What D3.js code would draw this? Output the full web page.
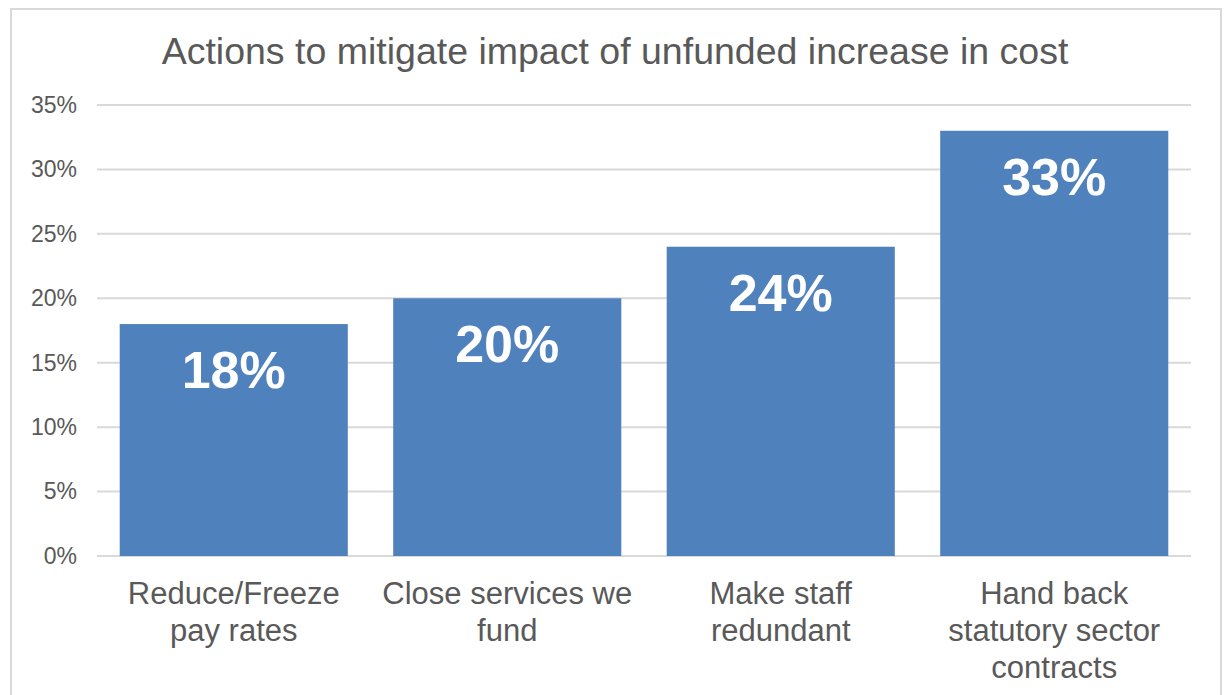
<!DOCTYPE html>
<html>
<head>
<meta charset="utf-8">
<script src="https://cdn.jsdelivr.net/npm/d3@7"></script>
<style>
  body { margin: 0; background: #fff; }
  text { font-family: "Liberation Sans", Arial, sans-serif; }
</style>
</head>
<body>
<script>
var svgWidth = 1224;
var svgHeight = 695;

var title = "Actions to mitigate impact of unfunded increase in cost";
var categories = ["Reduce/Freeze\npay rates", "Close services we\nfund", "Make staff\nredundant", "Hand back\nstatutory sector\ncontracts"];
var values = [0.18, 0.20, 0.24, 0.33];
var yTicks = [0, 0.05, 0.10, 0.15, 0.20, 0.25, 0.30, 0.35];

var svg = d3.select("body").append("svg")
    .attr("width", svgWidth)
    .attr("height", svgHeight);

// chart border
svg.append("rect")
    .attr("x", 11).attr("y", 9)
    .attr("width", 1210).attr("height", 720)
    .attr("fill", "none")
    .attr("stroke", "#d9d9d9")
    .attr("stroke-width", 2);

var plot = { left: 97, right: 1191, top: 105, bottom: 556 };

var x = d3.scaleBand()
    .domain(categories)
    .range([plot.left, plot.right])
    .paddingInner(0.166)
    .paddingOuter(0.083);

var y = d3.scaleLinear()
    .domain([0, 0.35])
    .range([plot.bottom, plot.top]);

// title
svg.append("text")
    .attr("x", 615)
    .attr("y", 64)
    .attr("text-anchor", "middle")
    .attr("font-size", 37.5)
    .attr("fill", "#595959")
    .text(title);

// gridlines
svg.selectAll(".grid").data(yTicks).join("line")
    .attr("class", "grid")
    .attr("x1", plot.left).attr("x2", plot.right)
    .attr("y1", function(d) { return y(d); })
    .attr("y2", function(d) { return y(d); })
    .attr("stroke", "#d9d9d9")
    .attr("stroke-width", 2);

// y axis labels
var yAxis = d3.axisLeft(y).tickValues(yTicks).tickFormat(d3.format(".0%")).tickSize(0).tickPadding(20);
var yg = svg.append("g").attr("transform", "translate(" + plot.left + ",0)").call(yAxis);
yg.select(".domain").remove();
yg.selectAll("text")
    .attr("font-size", 23)
    .attr("fill", "#595959")
    .attr("font-family", "Liberation Sans, Arial, sans-serif");

// bars
svg.selectAll(".bar").data(values).join("rect")
    .attr("class", "bar")
    .attr("x", function(d, i) { return x(categories[i]); })
    .attr("y", function(d) { return y(d); })
    .attr("width", x.bandwidth())
    .attr("height", function(d) { return y(0) - y(d); })
    .attr("fill", "#4f81bd");

// value labels
svg.selectAll(".val").data(values).join("text")
    .attr("class", "val")
    .attr("x", function(d, i) { return x(categories[i]) + x.bandwidth() / 2; })
    .attr("y", function(d) { return y(d) + 64; })
    .attr("text-anchor", "middle")
    .attr("font-size", 52)
    .attr("font-weight", "bold")
    .attr("fill", "#fff")
    .text(function(d) { return Math.round(d * 100) + "%"; });

// category labels
svg.selectAll(".cat").data(categories).join("text")
    .attr("class", "cat")
    .attr("text-anchor", "middle")
    .attr("font-size", 31)
    .attr("fill", "#595959")
    .each(function(d) {
        var t = d3.select(this);
        var cx = x(d) + x.bandwidth() / 2;
        d.split("\n").forEach(function(line, i) {
            t.append("tspan")
                .attr("x", cx)
                .attr("y", 604 + i * 37)
                .text(line);
        });
    });
</script>
</body>
</html>
